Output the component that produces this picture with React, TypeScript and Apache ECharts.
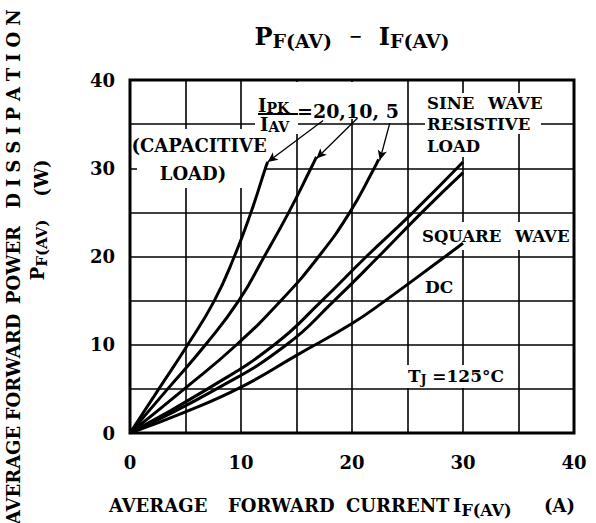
import React, { useEffect, useRef } from 'react';
import * as echarts from 'echarts';

const FONT = 'DejaVu Serif';

// Axis ticks (A and W)
const currentTicks = [0, 10, 20, 30, 40];
const powerTicks = [0, 10, 20, 30, 40];

// Capacitive load, Ipk/Iav = 20
const ratio20Current = [0, 2.6, 5.2, 7.6, 9.4, 10.9, 12.2, 12.4];
const ratio20Power = [0, 5, 10, 15, 20, 25, 30, 30.7];
// Capacitive load, Ipk/Iav = 10
const ratio10Current = [0, 3.4, 6.8, 9.8, 12.1, 14.3, 16.3, 16.8];
const ratio10Power = [0, 5, 10, 15, 20, 25, 30, 31.3];
// Capacitive load, Ipk/Iav = 5
const ratio5Current = [0, 4.9, 9.6, 13.6, 17.0, 19.8, 22.0, 22.4];
const ratio5Power = [0, 5, 10, 15, 20, 25, 30, 31.0];
// Sine wave, resistive load
const sineCurrent = [0, 7.0, 13.0, 17.3, 21.3, 25.5, 30];
const sinePower = [0, 5, 10, 15, 20, 25, 30.7];
// Square wave
const squareCurrent = [0, 7.8, 14.1, 18.4, 22.4, 26.3, 30];
const squarePower = [0, 5, 10, 15, 20, 25, 29.5];
// DC
const dcCurrent = [0, 5, 10, 15, 20, 23, 28.4, 30];
const dcPower = [0, 2.4, 5.2, 8.8, 12.4, 15, 20, 21.5];

// Arrows from the Ipk/Iav label to the capacitive curve ends
const arrowTailCurrent = [17.4, 20.5, 23.4];
const arrowTailPower = [35.4, 35.7, 35.1];
const arrowHeadCurrent = [12.4, 16.8, 22.5];
const arrowHeadPower = [30.7, 31.1, 30.9];

const pairs = (xs: number[], ys: number[]) => xs.map((x, i) => [x, ys[i]]);

const txt = (x: number, y: number, text: string, extra: any = {}, style: any = {}) => ({
  type: 'text',
  x,
  y,
  z: 10,
  ...extra,
  style: {
    text,
    fontFamily: FONT,
    fontWeight: 'bold',
    fontSize: 18,
    fill: '#000',
    align: 'left',
    textAlign: 'left',
    verticalAlign: 'middle',
    textVerticalAlign: 'middle',
    ...style,
  },
});

const whiteRect = (x1: number, y1: number, x2: number, y2: number) => ({
  type: 'rect',
  z: 1,
  shape: { x: x1, y: y1, width: x2 - x1, height: y2 - y1 },
  style: { fill: '#fff' },
});

const subRich = (size: number, pad: number) => ({
  s: { fontFamily: FONT, fontWeight: 'bold', fontSize: size, fill: '#000', padding: [pad, 0, 0, 0] },
  d: { fontFamily: FONT, fontWeight: 'bold', fontSize: 16, fill: '#000' },
});

const rot = { rotation: Math.PI / 2 };
const centered = { align: 'center', textAlign: 'center' };
const SP = '\u2004';

export default function App() {
  const ref = useRef<HTMLDivElement>(null);

  useEffect(() => {
    if (!ref.current) return;
    const chart = echarts.init(ref.current, undefined, { renderer: 'svg' });

    const mkCurve = (name: string, xs: number[], ys: number[], extra: any = {}) => ({
      name,
      type: 'line',
      data: pairs(xs, ys),
      smooth: 0.5,
      symbol: 'none',
      lineStyle: { color: '#000', width: 3 },
      itemStyle: { color: '#000' },
      z: 3,
      ...extra,
    });

    const arrowData = arrowTailCurrent.map((x, i) => [
      { coord: [x, arrowTailPower[i]] },
      { coord: [arrowHeadCurrent[i], arrowHeadPower[i]] },
    ]);

    const axisLabelBase = {
      fontFamily: FONT,
      fontWeight: 'bold',
      fontSize: 18,
      color: '#000',
    };

    chart.setOption({
      animation: false,
      backgroundColor: '#fff',
      grid: {
        left: 130,
        right: 22,
        top: 80,
        bottom: 90,
        show: true,
        borderColor: '#000',
        borderWidth: 3,
      },
      xAxis: {
        type: 'value',
        min: 0,
        max: 40,
        interval: 5,
        axisLine: { show: false },
        axisTick: { show: false },
        splitLine: { show: true, lineStyle: { color: '#000', width: 1.6 } },
        axisLabel: {
          ...axisLabelBase,
          formatter: (v: number) => (currentTicks.includes(v) ? String(v) : ''),
          margin: 20,
        },
      },
      yAxis: {
        type: 'value',
        min: 0,
        max: 40,
        interval: 5,
        axisLine: { show: false },
        axisTick: { show: false },
        splitLine: { show: true, lineStyle: { color: '#000', width: 1.6 } },
        axisLabel: {
          ...axisLabelBase,
          formatter: (v: number) => (powerTicks.includes(v) ? String(v) : ''),
          margin: 15,
          padding: [14, 0, 0, 0],
        },
      },
      series: [
        mkCurve('20', ratio20Current, ratio20Power, {
          markLine: {
            silent: true,
            symbol: ['none', 'arrow'],
            symbolSize: [7, 10],
            label: { show: false },
            lineStyle: { color: '#000', width: 1.3, type: 'solid' },
            data: arrowData,
          },
        }),
        mkCurve('10', ratio10Current, ratio10Power),
        mkCurve('5', ratio5Current, ratio5Power),
        mkCurve('sine', sineCurrent, sinePower),
        mkCurve('square', squareCurrent, squarePower),
        mkCurve('dc', dcCurrent, dcPower),
      ],
      graphic: [
        // white boxes behind annotation texts (break the grid lines)
        whiteRect(255, 82, 298, 134),
        whiteRect(298, 82, 405, 119),
        whiteRect(137, 129, 266, 188),
        whiteRect(425, 93, 541, 134),
        whiteRect(425, 134, 479, 157),
        whiteRect(419, 222, 572, 250),
        whiteRect(422, 278, 456, 297),
        whiteRect(405, 365, 514, 388),
        // title
        txt(352, 36, 'P{s|F(AV)}  {d|−}  I{s|F(AV)}', {}, {
          fontSize: 24,
          ...centered,
          rich: subRich(19, 10),
        }),
        // x axis name
        txt(109, 505, 'AVERAGE'),
        txt(228, 505, 'FORWARD'),
        txt(346, 505, 'CURRENT'),
        txt(453, 505, 'I{s|F(AV)}', {}, { rich: subRich(16, 10) }),
        txt(544, 505, '(A)'),
        // y axis name
        txt(13, 475, 'AVERAGE', rot, centered),
        txt(13, 367, 'FORWARD', rot, centered),
        txt(13, 265, 'POWER', rot, centered),
        txt(13, 109, 'DISSIPATION'.split('').join(SP), rot, centered),
        txt(41, 178, '(W)', rot, centered),
        txt(37, 250, 'P{s|F(AV)}', rot, { ...centered, rich: subRich(15, 10) }),
        // Ipk / Iav label
        txt(258, 105, 'I{s|PK}', {}, { rich: subRich(14, 6) }),
        {
          type: 'line',
          z: 10,
          shape: { x1: 258, y1: 114, x2: 298, y2: 114 },
          style: { stroke: '#000', lineWidth: 2 },
        },
        txt(260, 124, 'I{s|AV}', {}, { rich: subRich(14, 6) }),
        txt(297, 111, '=20,10, 5', {}, { fontSize: 19 }),
        // capacitive
        txt(199, 145, '(CAPACITIVE', {}, centered),
        txt(193, 173, 'LOAD)', {}, centered),
        // sine
        txt(427, 103, 'SINE', {}, { fontSize: 16.5 }),
        txt(488, 103, 'WAVE', {}, { fontSize: 16.5 }),
        txt(427, 124, 'RESISTIVE', {}, { fontSize: 16.5 }),
        txt(427, 146, 'LOAD', {}, { fontSize: 16.5 }),
        // square
        txt(422, 236, 'SQUARE', {}, { fontSize: 16.5 }),
        txt(515, 236, 'WAVE', {}, { fontSize: 16.5 }),
        // dc
        txt(425, 287, 'DC', {}, { fontSize: 17 }),
        // Tj
        txt(408, 376, 'T{s|J} =125°C', {}, { fontSize: 17, rich: subRich(12, 8) }),
      ],
    });

    return () => chart.dispose();
  }, []);

  return (
    <div
      ref={ref}
      style={{ position: 'fixed', left: 0, top: 0, width: 596, height: 523, background: '#fff' }}
    />
  );
}
